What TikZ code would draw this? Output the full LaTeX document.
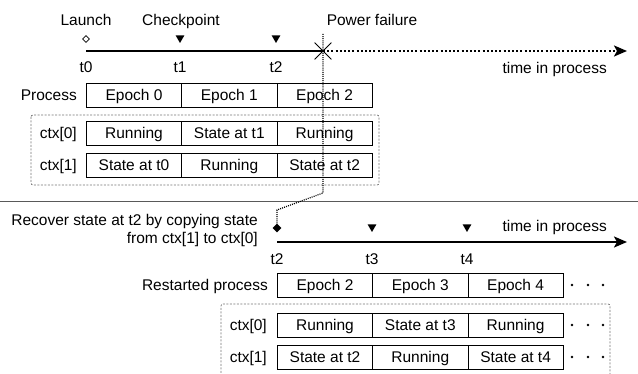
\documentclass[tikz,border=0pt]{standalone}
\usepackage{fontspec}
\setmainfont{Liberation Sans}
\usetikzlibrary{arrows.meta,shapes.geometric,shapes.misc}
\begin{document}
\begin{tikzpicture}[x=1pt,y=-1pt,
  font=\fontsize{15.5}{18}\selectfont,
  lbl/.style={inner sep=0pt},
  cell/.style={draw, line width=0.7pt, minimum width=95.3pt, minimum height=23.8pt,
    inner sep=0pt, anchor=north west, text height=14pt, text depth=3pt},
  rowlbl/.style={inner sep=0pt, anchor=east, text height=14pt, text depth=3pt},
  tri/.style={regular polygon, regular polygon sides=3, shape border rotate=180,
    fill=black, inner sep=0pt, minimum size=10pt},
  axis/.style={line width=2pt},
  tip/.style={-{Stealth[length=13pt,width=11pt,inset=3pt]}},
  dotline/.style={line width=1.2pt, dash pattern=on 1pt off 1.1pt},
  grpbox/.style={draw=black!55, line width=0.7pt, dash pattern=on 2pt off 1.5pt, rounded corners=2pt},
  dot/.style={circle, fill=black, inner sep=0pt, minimum size=2.6pt}
]
\useasboundingbox (0,0) rectangle (638,374);

% ---------- top timeline ----------
\node[lbl, anchor=base] (launch) at (86,26) {Launch};
\node[lbl, anchor=base] (chk) at (181,26) {Checkpoint};
\node[lbl, anchor=base] (pf) at (372,26) {Power failure};

\node[diamond, draw, line width=0.6pt, inner sep=0pt, minimum size=7pt] (d0) at (86,39) {};
\node[tri] (tr1) at (180,38) {};
\node[tri] (tr2) at (276,38) {};

\coordinate (a0) at (86,51);
\node[cross out, draw, line width=0.8pt, minimum size=16pt, inner sep=0pt] (xm) at (323,51) {};
\coordinate (aend) at (627,51);
\draw[axis] (a0) -- (xm.center);
\draw[axis, dash pattern=on 2pt off 2.2pt, tip] (xm.center) -- (aend);

\node[lbl, anchor=base] (t0) at (86,73) {t0};
\node[lbl, anchor=base] (t1) at (180,73) {t1};
\node[lbl, anchor=base] (t2a) at (276,73) {t2};
\node[lbl, anchor=base east] (tip1) at (607,74) {time in process};

% ---------- top table ----------
\node[rowlbl] (proc) at (77,95) {Process};
\node[cell] (e0) at (86,83) {Epoch 0};
\node[cell] (e1) at (181.3,83) {Epoch 1};
\node[cell] (e2) at (276.6,83) {Epoch 2};

\draw[grpbox] (31,115) rectangle (379,185);

\node[rowlbl] (c0) at (77,133) {ctx[0]};
\node[cell] (r00) at (86,121) {Running};
\node[cell] (r01) at (181.3,121) {State at t1};
\node[cell] (r02) at (276.6,121) {Running};

\node[rowlbl] (c1) at (77,165) {ctx[1]};
\node[cell] (r10) at (86,153) {State at t0};
\node[cell] (r11) at (181.3,153) {Running};
\node[cell] (r12) at (276.6,153) {State at t2};

% ---------- separator ----------
\coordinate (sepL) at (0,201);
\coordinate (sepR) at (638,201);
\draw[black!65, line width=0.8pt] (sepL) -- (sepR);

% ---------- bottom timeline ----------
\node[lbl, anchor=base east] (rec1) at (258,225.5) {Recover state at t2 by copying state};
\node[lbl, anchor=base east] (rec2) at (258,243.5) {from ctx[1] to ctx[0]};

\node[diamond, fill=black, inner sep=0pt, minimum size=9pt] (d1) at (277,228) {};
\node[tri] (tr3) at (372,227) {};
\node[tri] (tr4) at (467,227) {};

\coordinate (b0) at (277,242);
\coordinate (bend) at (627,242);
\draw[axis, tip] (b0) -- (bend);

\node[lbl, anchor=base] (t2b) at (277,265) {t2};
\node[lbl, anchor=base] (t3) at (372,265) {t3};
\node[lbl, anchor=base] (t4) at (467,265) {t4};
\node[lbl, anchor=base east] (tip2) at (607,231.5) {time in process};

% power failure link
\coordinate (pfTop) at (323,34);
\coordinate (pfBend) at (323,193);
\coordinate (pfBend2) at (277,210);
\draw[dotline] (pfTop) -- (pfBend) -- (pfBend2) -- (d1.north);

% ---------- bottom table ----------
\node[rowlbl] (rproc) at (268,285) {Restarted process};
\node[cell] (f0) at (277,273) {Epoch 2};
\node[cell] (f1) at (372.3,273) {Epoch 3};
\node[cell] (f2) at (467.6,273) {Epoch 4};

\draw[grpbox] (221,380) -- (221,304) -- (610,304) -- (610,380);

\node[rowlbl] (g0) at (267,325) {ctx[0]};
\node[cell] (s00) at (277,313) {Running};
\node[cell] (s01) at (372.3,313) {State at t3};
\node[cell] (s02) at (467.6,313) {Running};

\node[rowlbl] (g1) at (267,357) {ctx[1]};
\node[cell] (s10) at (277,345) {State at t2};
\node[cell] (s11) at (372.3,345) {Running};
\node[cell] (s12) at (467.6,345) {State at t4};

\foreach \yy/\nm in {285/p, 325/a, 357/b}{
  \node[dot] (dd1\nm) at (572,\yy) {};
  \node[dot] (dd2\nm) at (588,\yy) {};
  \node[dot] (dd3\nm) at (603,\yy) {};
}
\end{tikzpicture}
\end{document}
